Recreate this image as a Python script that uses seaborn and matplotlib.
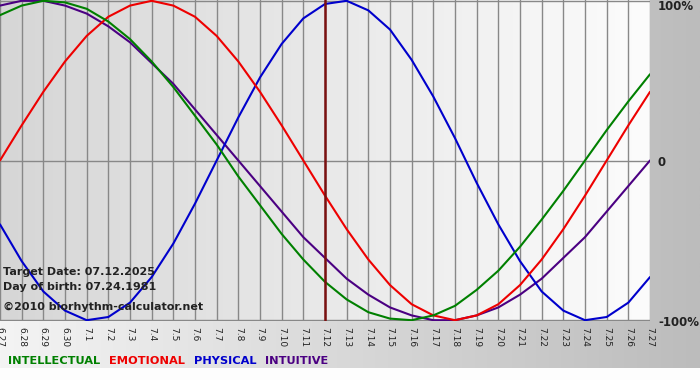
import matplotlib
matplotlib.use("Agg")
import matplotlib.pyplot as plt
import numpy as np
import seaborn as sns

sns.set_style("white")
plt.rcParams["font.family"] = ["DejaVu Sans"]

# day labels, 06.27 .. 07.27
dates = ["6.27", "6.28", "6.29", "6.30"] + ["7.%d" % i for i in range(1, 28)]

# values, one per day (-1 .. 1)
physical = [-0.40, -0.63, -0.82, -0.94, -1.00, -0.98, -0.89, -0.73, -0.52, -0.27,
            0.00, 0.27, 0.52, 0.73, 0.89, 0.98, 1.00, 0.94, 0.82, 0.63,
            0.40, 0.14, -0.14, -0.40, -0.63, -0.82, -0.94, -1.00, -0.98, -0.89, -0.73]
emotional = [0.00, 0.22, 0.43, 0.62, 0.78, 0.90, 0.97, 1.00, 0.97, 0.90,
             0.78, 0.62, 0.43, 0.22, 0.00, -0.22, -0.43, -0.62, -0.78, -0.90,
             -0.97, -1.00, -0.97, -0.90, -0.78, -0.62, -0.43, -0.22, 0.00, 0.22, 0.43]
intellectual = [0.91, 0.97, 1.00, 0.99, 0.95, 0.87, 0.76, 0.62, 0.46, 0.28,
                0.10, -0.10, -0.28, -0.46, -0.62, -0.76, -0.87, -0.95, -0.99, -1.00,
                -0.97, -0.91, -0.81, -0.69, -0.54, -0.37, -0.19, 0.00, 0.19, 0.37, 0.54]
intuitive = [0.97, 1.00, 1.00, 0.97, 0.92, 0.84, 0.74, 0.61, 0.48, 0.32,
             0.16, 0.00, -0.16, -0.32, -0.48, -0.61, -0.74, -0.84, -0.92, -0.97,
             -1.00, -1.00, -0.97, -0.92, -0.84, -0.74, -0.61, -0.48, -0.32, -0.16, 0.00]

target_idx = 15  # 7.12

colors = {"INTELLECTUAL": "#008000", "EMOTIONAL": "#ee0000",
          "PHYSICAL": "#0000cc", "INTUITIVE": "#4b0082"}

fig = plt.figure(figsize=(7, 3.8), dpi=100)

# figure background: light on the left, grey on the right
bg = fig.add_axes([0, 0, 1, 1], zorder=-1)
grad = np.linspace(0, 1, 256).reshape(1, -1)
bg.imshow(grad, cmap=matplotlib.colors.LinearSegmentedColormap.from_list(
    "bg", ["#f4f4f4", "#bcbcbc"]), aspect="auto", extent=[0, 1, 0, 1])
bg.add_patch(plt.Rectangle((0, 0), 1, 12 / 380, color="#fdfdfd", lw=0))
bg.set_xlim(0, 1)
bg.set_ylim(0, 1)
bg.axis("off")

ax = fig.add_axes([0, 1 - 321 / 380, 650 / 700, 321 / 380])
days = np.arange(len(dates))
ax.imshow(grad, cmap=matplotlib.colors.LinearSegmentedColormap.from_list(
    "pl", ["#d6d6d6", "#fcfcfc"]), aspect="auto",
    extent=[0, len(dates) - 1, -1.005, 1.005], zorder=0)

for d in days:
    ax.axvline(d, color="#888888", lw=1, zorder=1)
for yv in (-1, 0, 1):
    ax.axhline(yv, color="#888888", lw=1, zorder=1)

for name, vals in [("INTUITIVE", intuitive), ("PHYSICAL", physical),
                   ("EMOTIONAL", emotional), ("INTELLECTUAL", intellectual)]:
    sns.lineplot(x=days, y=vals, color=colors[name], lw=1.5, ax=ax, zorder=3)

ax.axvline(target_idx, color="#7a1010", lw=1.8, zorder=4)

ax.set_xlim(0, len(dates) - 1)
ax.set_ylim(-1.005, 1.005)
ax.set_yticks([])
ax.set_xticks(days)
ax.set_xticklabels(dates, rotation=270, fontsize=6.5, color="#222222")
ax.tick_params(axis="x", length=3, width=1, color="#888888", pad=1)
for s in ax.spines.values():
    s.set_visible(False)

info = dict(fontsize=8, fontweight="bold", color="#222222", va="center", ha="left",
            transform=fig.transFigure)
fig.text(3 / 700, 1 - 272 / 380, "Target Date: 07.12.2025", **info)
fig.text(3 / 700, 1 - 287 / 380, "Day of birth: 07.24.1981", **info)
fig.text(3 / 700, 1 - 307 / 380, "\u00a92010 biorhythm-calculator.net", **info)

for txt, yp in [("100%", 7), ("0", 162), ("-100%", 322)]:
    fig.text(658 / 700, 1 - yp / 380, txt, fontsize=8.5, fontweight="bold",
             color="#222222", va="center", ha="left")

xpos = 8
for name in ["INTELLECTUAL", "EMOTIONAL", "PHYSICAL", "INTUITIVE"]:
    t = fig.text(xpos / 700, 1 - 361 / 380, name, fontsize=8.2, fontweight="bold",
                 color=colors[name], va="center", ha="left")
    fig.canvas.draw()
    w = t.get_window_extent().width
    xpos += w + 9

fig.savefig("out.png", dpi=100)
